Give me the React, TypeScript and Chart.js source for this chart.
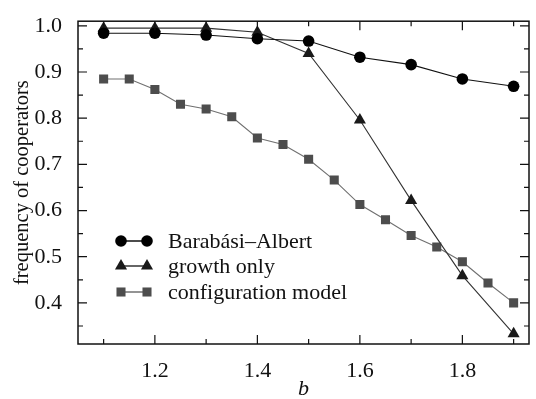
import React, { useEffect, useRef } from "react";
import { Chart, registerables } from "chart.js";

Chart.register(...registerables);

const bCoarse = [1.1, 1.2, 1.3, 1.4, 1.5, 1.6, 1.7, 1.8, 1.9];
const baValues = [0.984, 0.984, 0.98, 0.972, 0.967, 0.932, 0.916, 0.885, 0.869];
const growthValues = [0.995, 0.995, 0.995, 0.986, 0.94, 0.796, 0.622, 0.459, 0.333];
const bFine = [1.1, 1.15, 1.2, 1.25, 1.3, 1.35, 1.4, 1.45, 1.5, 1.55, 1.6, 1.65, 1.7, 1.75, 1.8, 1.85, 1.9];
const configValues = [0.885, 0.885, 0.862, 0.83, 0.82, 0.803, 0.757, 0.743, 0.711, 0.666, 0.613, 0.58, 0.546, 0.521, 0.489, 0.443, 0.4];

const seriesLabels = ["Barabási–Albert", "growth only", "configuration model"];
const xTickValues = [1.2, 1.4, 1.6, 1.8];
const xMinorTicks = [1.1, 1.2, 1.3, 1.4, 1.5, 1.6, 1.7, 1.8, 1.9];
const yTickValues = [0.4, 0.5, 0.6, 0.7, 0.8, 0.9, 1.0];
const yMinorTicks = [0.35, 0.4, 0.45, 0.5, 0.55, 0.6, 0.65, 0.7, 0.75, 0.8, 0.85, 0.9, 0.95, 1.0];

const FONT = "'Liberation Serif', 'Times New Roman', serif";

export default function App() {
  const ref = useRef<HTMLCanvasElement>(null);
  useEffect(() => {
    document.body.style.margin = "0";
    const toPts = (xs: number[], ys: number[]) => xs.map((x, i) => ({ x, y: ys[i] }));

    const framePlugin = {
      id: "frame",
      afterDatasetsDraw(chart: any) {
        const { ctx, chartArea: a, scales } = chart;
        const xs = scales.x, ys = scales.y;
        ctx.save();
        ctx.strokeStyle = "#111";
        ctx.lineWidth = 1.5;
        ctx.strokeRect(a.left, a.top, a.right - a.left, a.bottom - a.top);
        ctx.lineWidth = 1.2;
        ctx.beginPath();
        xMinorTicks.forEach((v) => {
          const px = xs.getPixelForValue(v);
          const major = xTickValues.some((t) => Math.abs(t - v) < 1e-6);
          const len = major ? 9 : 5;
          ctx.moveTo(px, a.bottom);
          ctx.lineTo(px, a.bottom - len);
          ctx.moveTo(px, a.top);
          ctx.lineTo(px, a.top + len);
        });
        yMinorTicks.forEach((v) => {
          const py = ys.getPixelForValue(v);
          const major = yTickValues.some((t) => Math.abs(t - v) < 1e-6);
          const len = major ? 9 : 5;
          ctx.moveTo(a.left, py);
          ctx.lineTo(a.left + len, py);
          ctx.moveTo(a.right, py);
          ctx.lineTo(a.right - len, py);
        });
        ctx.stroke();

        // legend
        const lx0 = 121, lx1 = 147, tx = 168;
        const rows = [241, 266, 292];
        chart.data.datasets.forEach((ds: any, i: number) => {
          const y = rows[i];
          ctx.strokeStyle = ds.borderColor;
          ctx.lineWidth = 1.5;
          ctx.beginPath();
          ctx.moveTo(lx0, y);
          ctx.lineTo(lx1, y);
          ctx.stroke();
          [lx0, lx1].forEach((x) => {
            const r = ds.pointRadius;
            ctx.fillStyle = ds.pointBackgroundColor;
            ctx.beginPath();
            if (ds.pointStyle === "circle") {
              ctx.arc(x, y, r, 0, Math.PI * 2);
            } else if (ds.pointStyle === "triangle") {
              ctx.moveTo(x, y - r);
              ctx.lineTo(x + r * 0.866, y + r * 0.5);
              ctx.lineTo(x - r * 0.866, y + r * 0.5);
              ctx.closePath();
            } else {
              const s = Math.SQRT1_2 * r;
              ctx.rect(x - s, y - s, 2 * s, 2 * s);
            }
            ctx.fill();
          });
          ctx.fillStyle = "#111";
          ctx.font = `22px ${FONT}`;
          ctx.textBaseline = "middle";
          ctx.textAlign = "left";
          ctx.fillText(seriesLabels[i], tx, y + 1);
        });
        ctx.restore();
      },
    };

    const chart = new Chart(ref.current!, {
      type: "line",
      data: {
        datasets: [
          {
            label: seriesLabels[0],
            data: toPts(bCoarse, baValues),
            borderColor: "#111",
            backgroundColor: "#000",
            pointBackgroundColor: "#000",
            pointBorderWidth: 0,
            pointStyle: "circle",
            pointRadius: 5.8,
            borderWidth: 1.1,
          },
          {
            label: seriesLabels[1],
            data: toPts(bCoarse, growthValues),
            borderColor: "#333",
            backgroundColor: "#1a1a1a",
            pointBackgroundColor: "#1a1a1a",
            pointBorderWidth: 0,
            pointStyle: "triangle",
            pointRadius: 7,
            borderWidth: 1.1,
          },
          {
            label: seriesLabels[2],
            data: toPts(bFine, configValues),
            borderColor: "#707070",
            backgroundColor: "#4d4d4d",
            pointBackgroundColor: "#4d4d4d",
            pointBorderWidth: 0,
            pointStyle: "rect",
            pointRadius: 6.4,
            borderWidth: 1.1,
          },
        ] as any,
      },
      options: {
        animation: false,
        responsive: false,
        maintainAspectRatio: false,
        layout: { padding: { top: 16, right: 1, left: 0, bottom: 0 } },
        plugins: { legend: { display: false }, tooltip: { enabled: false } },
        scales: {
          x: {
            type: "linear",
            min: 1.05,
            max: 1.93,
            grid: { display: false },
            border: { display: false },
            afterBuildTicks: (s: any) => {
              s.ticks = xTickValues.map((v) => ({ value: v }));
            },
            afterFit: (s: any) => {
              s.height = 55;
            },
            ticks: {
              padding: 6,
              color: "#111",
              font: { family: FONT, size: 22 },
              callback: (v: any) => Number(v).toFixed(1),
            },
            title: {
              display: true,
              text: "b",
              color: "#111",
              font: { family: FONT, size: 22, style: "italic" },
              padding: { top: 0, bottom: -3 },
            },
          },
          y: {
            type: "linear",
            min: 0.311,
            max: 1.01,
            grid: { display: false },
            border: { display: false },
            afterBuildTicks: (s: any) => {
              s.ticks = yTickValues.map((v) => ({ value: v }));
            },
            afterFit: (s: any) => {
              s.width = 78;
            },
            ticks: {
              padding: 8,
              color: "#111",
              font: { family: FONT, size: 22 },
              callback: (v: any) => Number(v).toFixed(1),
            },
            title: {
              display: true,
              text: "frequency of cooperators",
              color: "#111",
              font: { family: FONT, size: 20.5 },
              padding: { top: 10, bottom: 4 },
            },
          },
        },
      } as any,
      plugins: [framePlugin],
    });
    return () => chart.destroy();
  }, []);
  return (
    <div style={{ width: 536, height: 399, background: "#fff" }}>
      <canvas ref={ref} width={536} height={399} style={{ display: "block" }} />
    </div>
  );
}
